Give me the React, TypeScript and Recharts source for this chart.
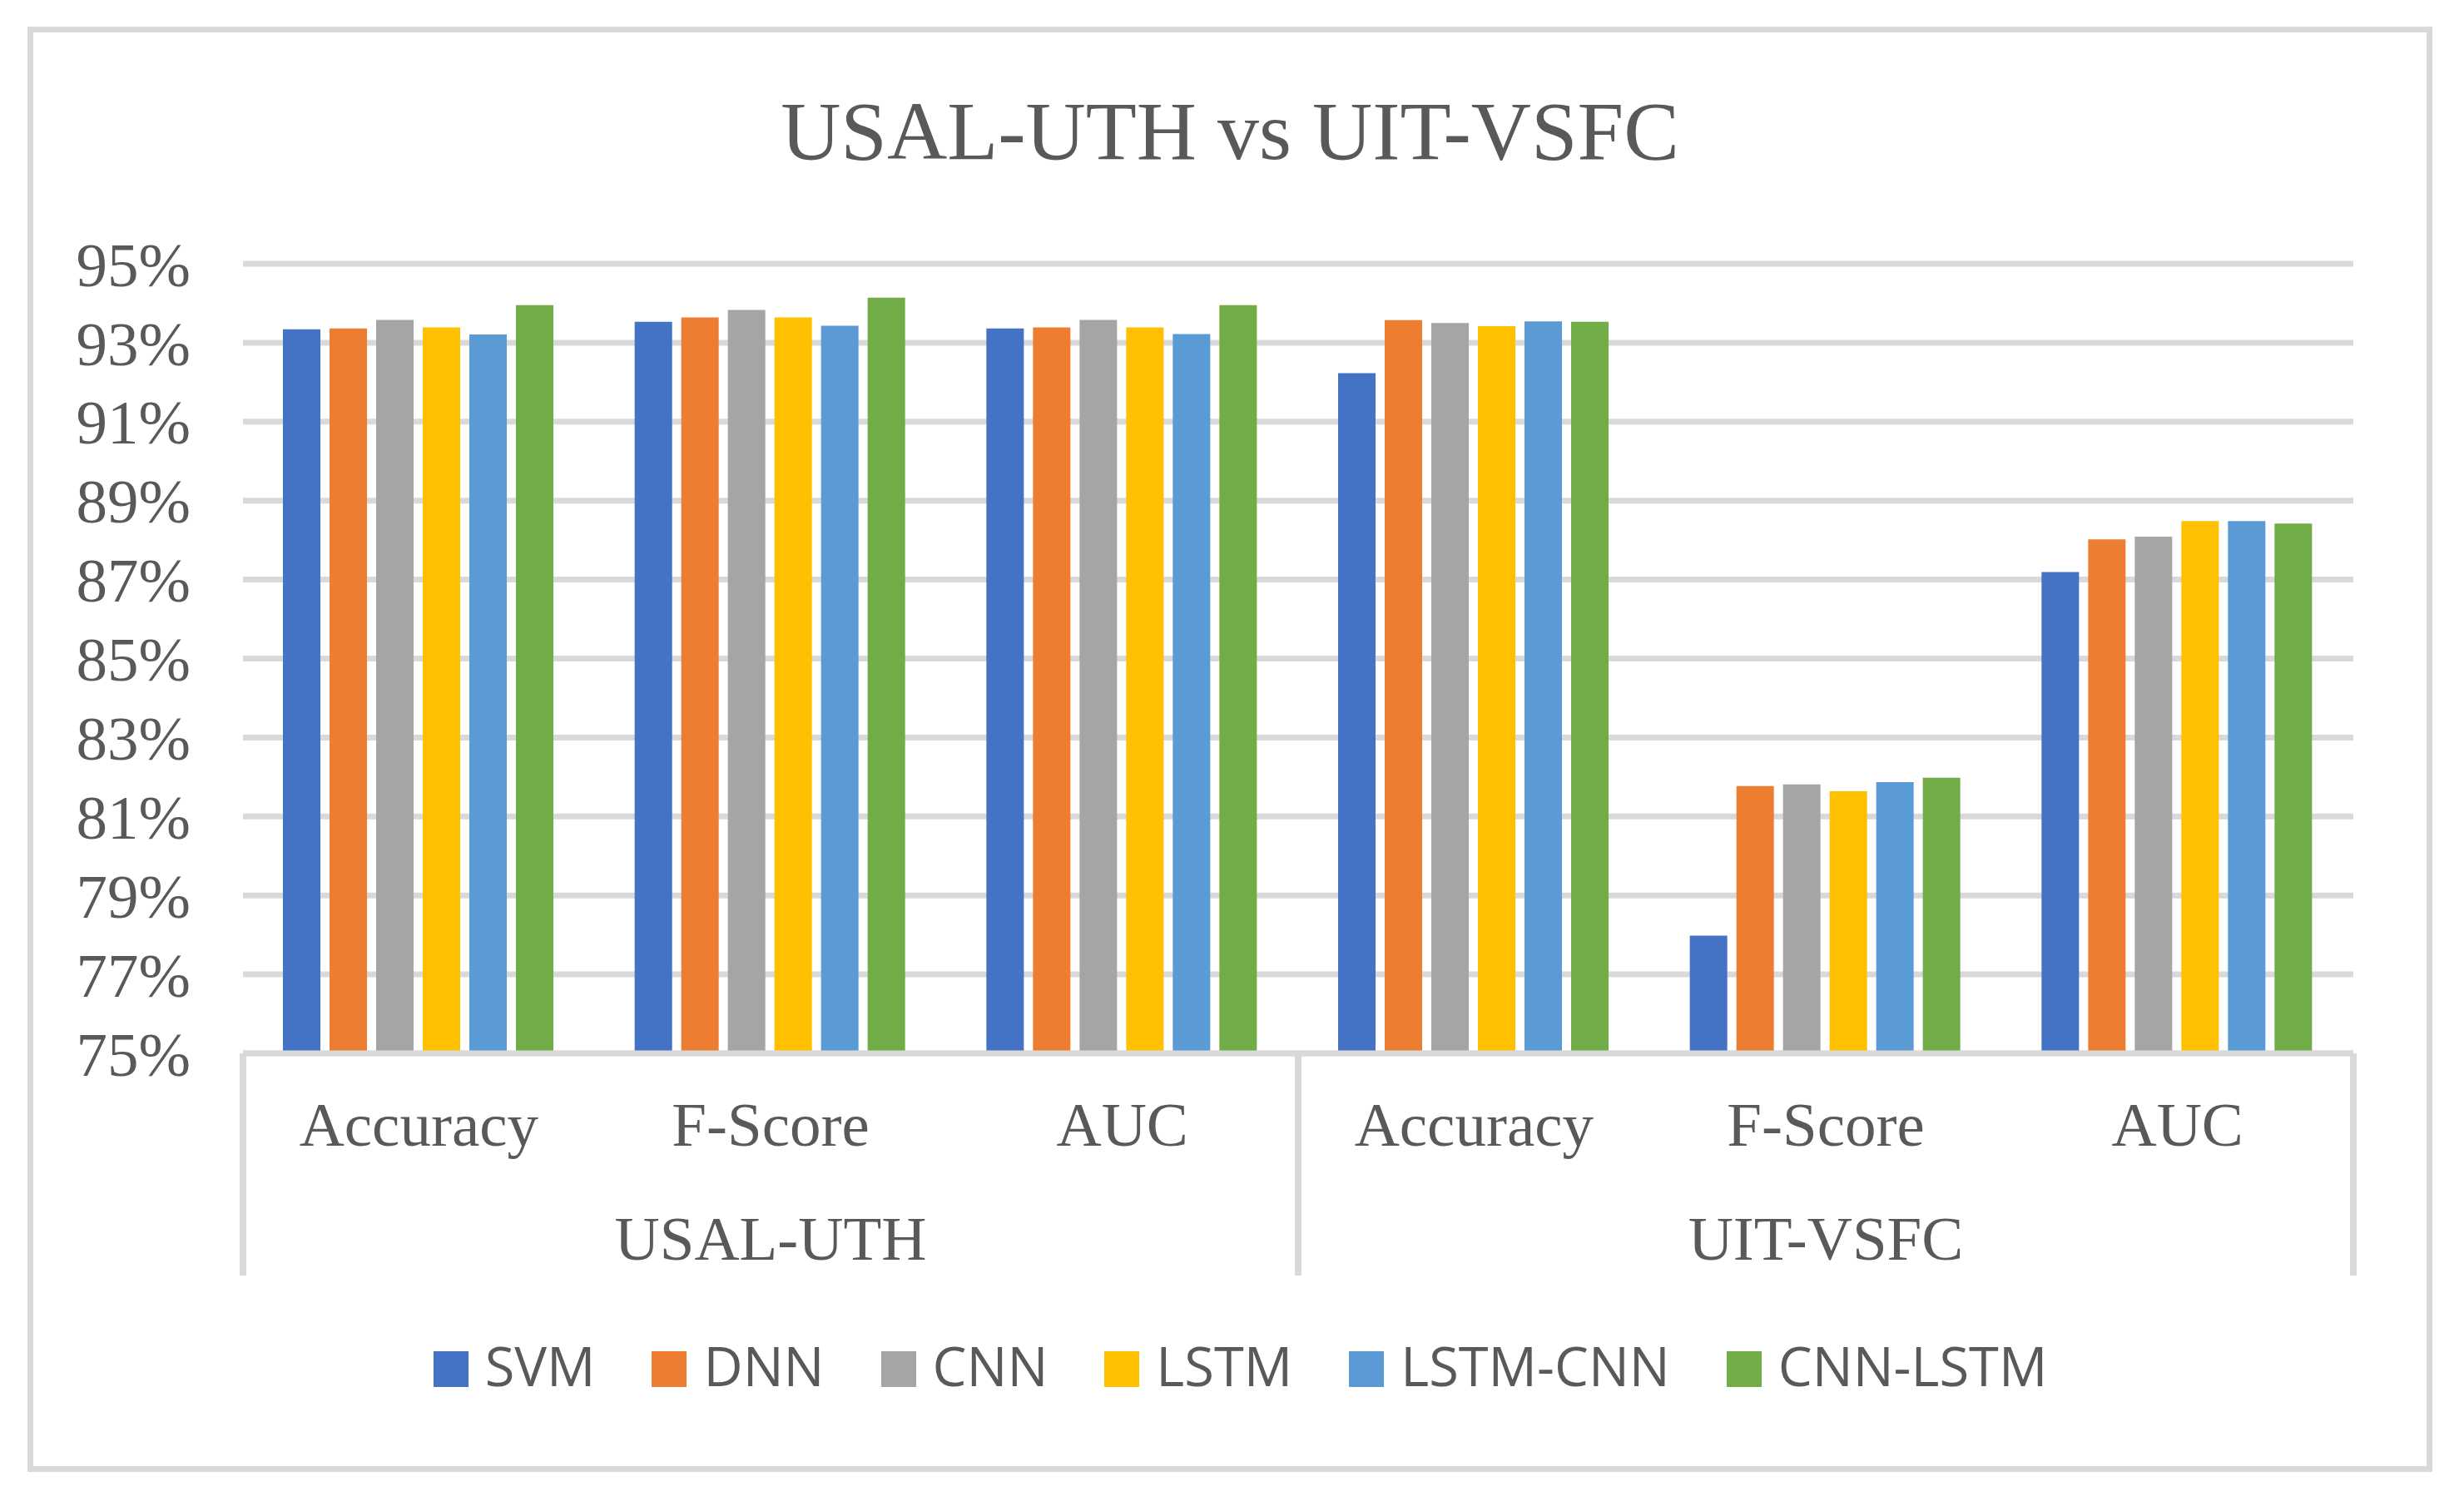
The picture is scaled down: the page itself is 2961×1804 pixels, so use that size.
import React from 'react';
import { BarChart, Bar, XAxis, YAxis, CartesianGrid, Legend } from 'recharts';

const categories = ['Accuracy', 'F-Score', 'AUC', 'Accuracy', 'F-Score', 'AUC'];
const groups = ['USAL-UTH', 'USAL-UTH', 'USAL-UTH', 'UIT-VSFC', 'UIT-VSFC', 'UIT-VSFC'];
const svm = [93.34, 93.53, 93.36, 92.23, 77.98, 87.19];
const dnn = [93.36, 93.64, 93.39, 93.57, 81.77, 88.02];
const cnn = [93.58, 93.83, 93.58, 93.5, 81.81, 88.09];
const lstm = [93.39, 93.64, 93.39, 93.42, 81.64, 88.48];
const lstmCnn = [93.21, 93.43, 93.22, 93.54, 81.87, 88.48];
const cnnLstm = [93.95, 94.14, 93.95, 93.53, 81.98, 88.42];
const yTicks = [75, 77, 79, 81, 83, 85, 87, 89, 91, 93, 95];

const seriesNames = ['SVM', 'DNN', 'CNN', 'LSTM', 'LSTM-CNN', 'CNN-LSTM'];
const seriesValues = [svm, dnn, cnn, lstm, lstmCnn, cnnLstm];
const seriesColors = ['#4472C4', '#ED7D31', '#A5A5A5', '#FFC000', '#5B9BD5', '#70AD47'];

const data = categories.map((c, i) => {
  const row: Record<string, any> = { metric: c, group: groups[i] };
  seriesNames.forEach((n, k) => {
    row[n] = seriesValues[k][i];
  });
  return row;
});

const SERIF = '"Liberation Serif", "Times New Roman", serif';
const TEXT = '#595959';
const LINE = '#D9D9D9';

const W = 2961;
const H = 1804;

const CategoryTick = (props: any) => {
  const { x, y, payload, index } = props;
  const half = payload && payload.offset ? payload.offset : 0;
  const i = index as number;
  return (
    <g>
      <text x={x} y={y + 111} textAnchor="middle" fill={TEXT} fontFamily={SERIF} fontSize={75}>
        {payload.value}
      </text>
      {i % 3 === 1 ? (
        <text x={x} y={y + 248} textAnchor="middle" fill={TEXT} fontFamily={SERIF} fontSize={75}>
          {groups[i]}
        </text>
      ) : null}
      {i % 3 === 0 ? (
        <line x1={x - half} x2={x - half} y1={y} y2={y + 267} stroke={LINE} strokeWidth={8} />
      ) : null}
      {i === categories.length - 1 ? (
        <line x1={x + half} x2={x + half} y1={y} y2={y + 267} stroke={LINE} strokeWidth={8} />
      ) : null}
    </g>
  );
};

const LegendContent = (props: any) => {
  const items = [...(props.payload || [])].sort(
    (a: any, b: any) => seriesNames.indexOf(a.value) - seriesNames.indexOf(b.value)
  );
  return (
    <div
      style={{
        display: 'flex',
        justifyContent: 'center',
        alignItems: 'center',
        height: 80,
        lineHeight: '80px',
        fontFamily: '"Open Sans", sans-serif',
        fontSize: 65,
        color: TEXT,
        paddingLeft: 20,
      }}
    >
      {items.map((entry: any, i: number) => (
        <div
          key={entry.value}
          style={{ display: 'flex', alignItems: 'center', marginRight: i === items.length - 1 ? 0 : 68 }}
        >
          <span
            style={{
              display: 'inline-block',
              width: 42,
              height: 43,
              marginTop: 8,
              marginRight: 20,
              background: entry.color,
            }}
          />
          <span style={{ whiteSpace: 'nowrap' }}>{entry.value}</span>
        </div>
      ))}
    </div>
  );
};

export default function App() {
  return (
    <div style={{ position: 'absolute', left: 0, top: 0, width: W, height: H, background: '#fff' }}>
      <div
        style={{
          position: 'absolute',
          left: 33,
          top: 32,
          width: 2890,
          height: 1737,
          border: `7px solid ${LINE}`,
          boxSizing: 'border-box',
        }}
      />
      <svg style={{ position: 'absolute', left: 0, top: 0 }} width={W} height={260}>
        <text x={1478} y={191} textAnchor="middle" fill={TEXT} fontFamily={SERIF} fontSize={100}>
          USAL-UTH vs UIT-VSFC
        </text>
      </svg>
      <div style={{ position: 'absolute', left: 0, top: 0 }}>
        <BarChart
          width={W}
          height={H}
          data={data}
          margin={{ top: 317, right: 133, left: 42, bottom: 258 }}
          barGap={11}
          barCategoryGap={48}
        >
          <CartesianGrid horizontal vertical={false} stroke={LINE} strokeWidth={7} />
          <XAxis
            dataKey="metric"
            height={280}
            interval={0}
            tickLine={false}
            tickSize={0}
            tickMargin={0}
            axisLine={{ stroke: LINE, strokeWidth: 7 }}
            tick={<CategoryTick />}
          />
          <YAxis
            width={250}
            domain={[75, 95]}
            ticks={yTicks}
            interval={0}
            axisLine={false}
            tickLine={false}
            tickSize={0}
            tickMargin={63}
            tickFormatter={(v: number) => `${v}%`}
            tick={{ fill: TEXT, fontSize: 75, fontFamily: SERIF }}
          />
          <Legend
            verticalAlign="middle"
            align="center"
            layout="horizontal"
            wrapperStyle={{ top: 1601, left: 0, width: W, height: 80 }}
            content={<LegendContent />}
          />
          {seriesNames.map((n, k) => (
            <Bar key={n} dataKey={n} name={n} fill={seriesColors[k]} isAnimationActive={false} />
          ))}
        </BarChart>
      </div>
    </div>
  );
}
